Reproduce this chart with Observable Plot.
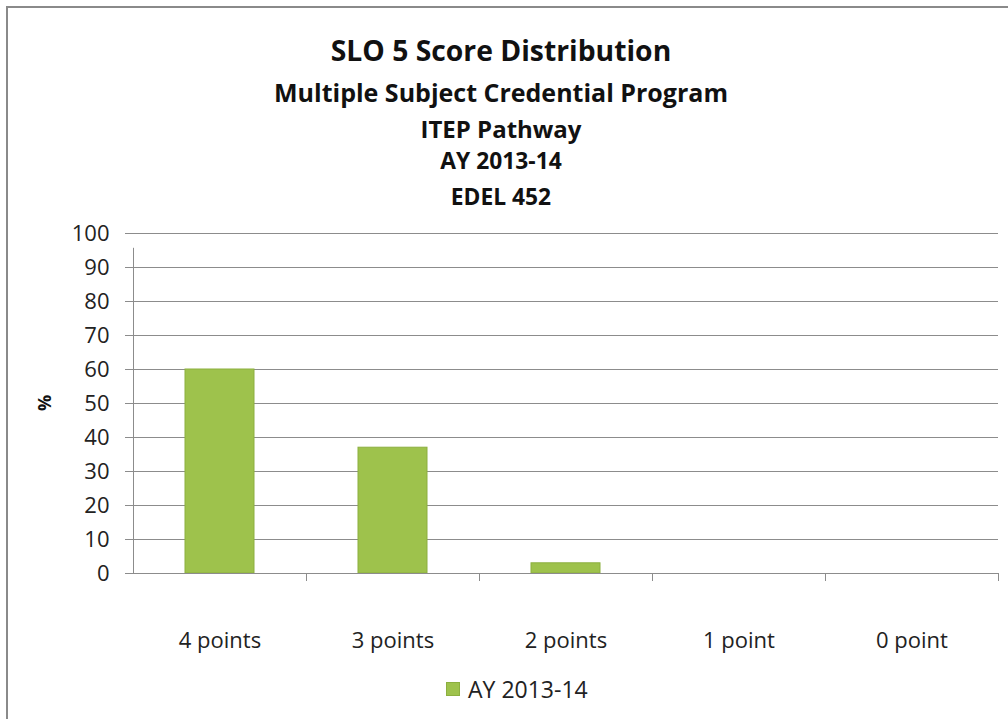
<!DOCTYPE html>
<html>
<head>
<meta charset="utf-8">
<script src="https://cdn.jsdelivr.net/npm/d3@7"></script>
<script src="https://cdn.jsdelivr.net/npm/@observablehq/plot@0.6"></script>
<style>
  html, body { margin: 0; padding: 0; background: #fff; }
  body { width: 1008px; height: 719px; position: relative; overflow: hidden; font-family: "Open Sans", Lato, sans-serif; }
  #frame { position: absolute; left: 6px; top: 6px; width: 1008px; height: 719px; border-left: 2px solid #8a8a8a; border-top: 2px solid #8a8a8a; box-sizing: border-box; }
  .t { position: absolute; left: 0; width: 1002px; height: 0; line-height: 0; text-align: center; font-weight: bold; color: #111; white-space: nowrap; }
  #chart { position: absolute; left: 0; top: 200px; }
  #legend { position: absolute; top: 689px; left: 446px; height: 0; line-height: 0; font-size: 23px; color: #222; white-space: nowrap; }
  #legend .sw { position: absolute; left: 0; top: -7px; width: 12px; height: 12px; background: #9ec24c; border: 1px solid #8caf3f; }
  #legend .lt { position: absolute; left: 22px; top: 0; }
</style>
</head>
<body>
<div id="frame"></div>
<div class="t" style="top:50px;font-size:28.3px;">SLO 5 Score Distribution</div>
<div class="t" style="top:92px;font-size:25px;">Multiple Subject Credential Program</div>
<div class="t" style="top:129px;font-size:24px;">ITEP Pathway</div>
<div class="t" style="top:161px;font-size:22.8px;">AY 2013-14</div>
<div class="t" style="top:197px;font-size:22.8px;">EDEL 452</div>
<div id="chart"></div>
<div id="legend"><span class="sw"></span><span class="lt" id="legText"></span></div>
<script>
const categories = ["4 points", "3 points", "2 points", "1 point", "0 point"];
const values = [60, 37, 3, 0, 0];
const seriesName = "AY 2013-14";
const yTicks = [0, 10, 20, 30, 40, 50, 60, 70, 80, 90, 100];

const data = categories.map((c, i) => ({category: c, value: values[i]}));

const W = 1008, H = 460, ML = 133, MR = 10, MT = 33, MB = 87;
const halfBand = (W - ML - MR) / categories.length / 2;
const gray = "#8c8c8c";
const font = "'Open Sans', Lato, sans-serif";

const chart = Plot.plot({
  width: W,
  height: H,
  marginLeft: ML,
  marginRight: MR,
  marginTop: MT,
  marginBottom: MB,
  style: {fontFamily: font, fontSize: "22px", color: "#222", background: "transparent"},
  x: {domain: categories, paddingInner: 0.6, paddingOuter: 0.3, align: 0.5, label: null},
  y: {domain: [0, 100], label: null},
  marks: [
    Plot.gridY(yTicks, {stroke: gray, strokeOpacity: 1, strokeWidth: 1}),
    Plot.axisY({ticks: yTicks, tickSize: 8, tickPadding: 16, stroke: gray, strokeOpacity: 1, fontSize: 22, label: null}),
    Plot.barY(data, {x: "category", y: "value", fill: "#9ec24c", stroke: "#8caf3f", strokeWidth: 1}),
    Plot.ruleX([categories[0]], {x: d => d, y1: 0, y2: 98, dx: -halfBand, stroke: gray, insetBottom: -8}),
    Plot.ruleX(categories.slice(1), {x: d => d, y1: 0, y2: 0, dx: -halfBand, stroke: gray, insetBottom: -8}),
    Plot.ruleX([categories[categories.length - 1]], {x: d => d, y1: 0, y2: 0, dx: halfBand, stroke: gray, insetBottom: -8}),
    Plot.ruleY([0], {stroke: gray}),
    Plot.axisX({tickSize: 0, tickPadding: 59, fontSize: 22, label: null})
  ]
});
document.getElementById("chart").appendChild(chart);

// y-axis title
d3.select(chart).append("text")
  .attr("transform", "translate(46, 203) rotate(-90)")
  .attr("text-anchor", "middle")
  .attr("dominant-baseline", "middle")
  .attr("font-weight", "bold")
  .attr("font-size", 18)
  .attr("fill", "#111")
  .text("%");

document.getElementById("legText").textContent = seriesName;
</script>
</body>
</html>
